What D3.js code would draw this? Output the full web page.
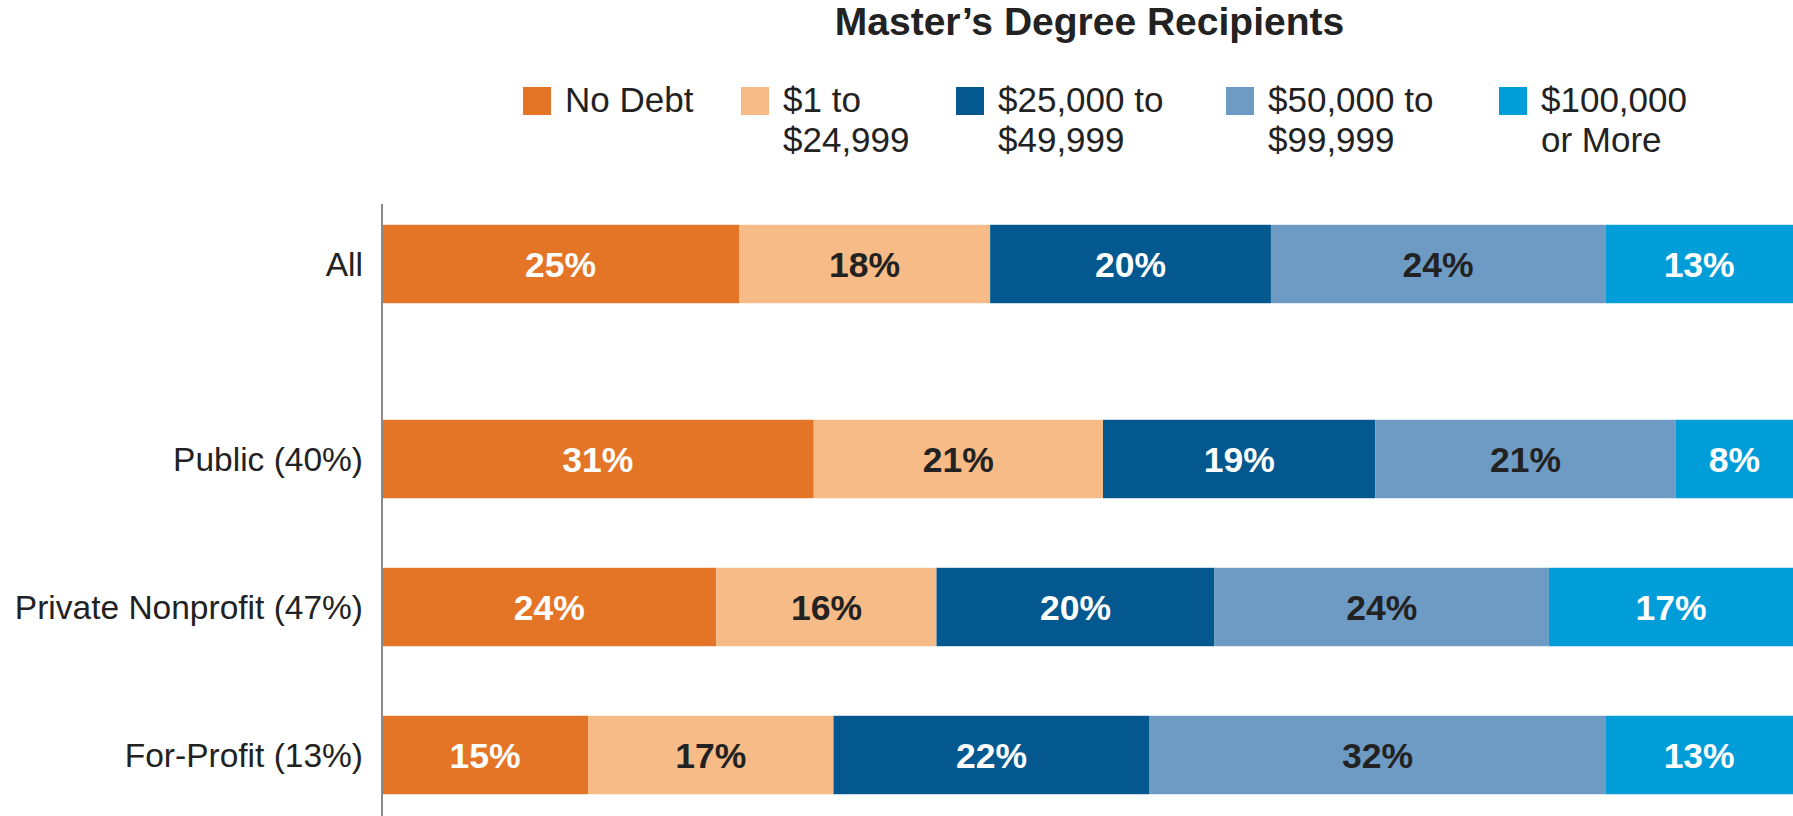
<!DOCTYPE html>
<html>
<head>
<meta charset="utf-8">
<script src="https://cdn.jsdelivr.net/npm/d3@7"></script>
<style>
  body { margin: 0; background: #fff; }
  svg { display: block; font-family: "Liberation Sans", Arial, sans-serif; }
</style>
</head>
<body>
<div class="chart"></div>
<script>
var categories = ['All', 'Public (40%)', 'Private Nonprofit (47%)', 'For-Profit (13%)'];
var seriesNames = ['No Debt', '$1 to\n$24,999', '$25,000 to\n$49,999', '$50,000 to\n$99,999', '$100,000\nor More'];
var seriesKeys = ['none', 'low', 'mid', 'high', 'top'];

// shares (labels are these rounded)
var noDebt   = [25.3, 30.6, 23.7, 14.6];
var upTo25k  = [17.8, 20.5, 15.6, 17.4];
var upTo50k  = [19.9, 19.3, 19.7, 22.4];
var upTo100k = [23.7, 21.3, 23.7, 32.3];
var over100k = [13.3, 8.3, 17.3, 13.3];

var colors = ['#e47526', '#f6bb86', '#02588f', '#6e9bc4', '#009dd8'];
var labelColors = ['#fff', '#222', '#fff', '#222', '#fff'];

var width = 1793;
var height = 816;
var left = 382;
var right = 1793;

var rows = categories.map(function(c, i) {
    return {
        cat: c,
        none: noDebt[i],
        low: upTo25k[i],
        mid: upTo50k[i],
        high: upTo100k[i],
        top: over100k[i]
    };
});

var stack = d3.stack().keys(seriesKeys)(rows);

var svg = d3.select('.chart')
    .append('svg')
    .attr('width', width)
    .attr('height', height);

var x = d3.scaleLinear()
    .domain([0, 100])
    .range([left, right]);

var y = d3.scaleBand()
    .domain(categories)
    .range([237, 829])
    .paddingInner(0.47)
    .paddingOuter(0.235);

// the "All" row sits apart from the sector rows
function rowY(cat) {
    return y(cat) - (cat === 'All' ? 47 : 0);
}

var plotCenter = (left + right) / 2;

svg.append('text')
    .attr('x', plotCenter + 2)
    .attr('y', 35)
    .attr('text-anchor', 'middle')
    .attr('font-size', 39)
    .attr('font-weight', 'bold')
    .attr('fill', '#222')
    .text('Master\u2019s Degree Recipients');

// legend: columns start at fixed steps from the first swatch
var legendLeft = 523;
var legendSteps = [0, 218, 433, 703, 976];
var swatch = 28;
var textGap = 14;

var legend = svg.append('g')
    .attr('transform', 'translate(' + legendLeft + ',0)');

var items = legend.selectAll('.item')
    .data(seriesNames)
    .enter()
    .append('g')
    .attr('class', 'item')
    .attr('transform', function(d, i) { return 'translate(' + legendSteps[i] + ',0)'; });

items.append('rect')
    .attr('x', 0)
    .attr('y', 87)
    .attr('width', swatch)
    .attr('height', swatch)
    .attr('fill', function(d, i) { return colors[i]; });

items.append('text')
    .attr('y', 112)
    .attr('font-size', 35)
    .attr('fill', '#222')
    .each(function(d) {
        var t = d3.select(this);
        d.split('\n').forEach(function(line, j) {
            t.append('tspan')
                .attr('x', swatch + textGap)
                .attr('dy', j === 0 ? 0 : 40)
                .text(line);
        });
    });

// bars
var series = svg.selectAll('.series')
    .data(stack)
    .enter()
    .append('g')
    .attr('class', 'series')
    .attr('fill', function(d, i) { return colors[i]; });

series.selectAll('rect')
    .data(function(d) { return d; })
    .enter()
    .append('rect')
    .attr('x', function(d) { return x(d[0]); })
    .attr('y', function(d) { return rowY(d.data.cat); })
    .attr('width', function(d) { return x(d[1]) - x(d[0]); })
    .attr('height', y.bandwidth());

series.each(function(s, si) {
    d3.select(this).selectAll('text')
        .data(s)
        .enter()
        .append('text')
        .attr('x', function(d) { return (x(d[0]) + x(d[1])) / 2; })
        .attr('y', function(d) { return rowY(d.data.cat) + y.bandwidth() / 2; })
        .attr('dy', '0.36em')
        .attr('text-anchor', 'middle')
        .attr('font-size', 35.5)
        .attr('font-weight', 'bold')
        .attr('fill', labelColors[si])
        .text(function(d) { return Math.round(d[1] - d[0]) + '%'; });
});

// category labels
svg.selectAll('.cat')
    .data(categories)
    .enter()
    .append('text')
    .attr('class', 'cat')
    .attr('x', left - 19)
    .attr('y', function(d) { return rowY(d) + y.bandwidth() / 2; })
    .attr('dy', '0.36em')
    .attr('text-anchor', 'end')
    .attr('font-size', 33.5)
    .attr('fill', '#222')
    .text(function(d) { return d; });

svg.append('line')
    .attr('x1', left)
    .attr('x2', left)
    .attr('y1', 204)
    .attr('y2', height)
    .attr('stroke', '#8a8a8a')
    .attr('stroke-width', 2);
</script>
</body>
</html>
